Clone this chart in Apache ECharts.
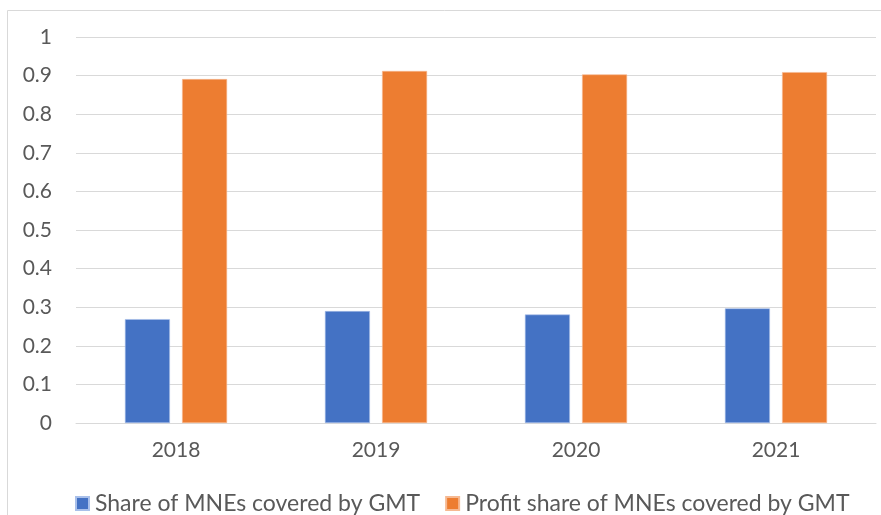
<!DOCTYPE html>
<html>
<head>
<meta charset="utf-8">
<script src="https://cdn.jsdelivr.net/npm/echarts@6/dist/echarts.min.js"></script>
<style>
  html, body { margin: 0; padding: 0; background: #fff; }
  #chart { width: 881px; height: 515px; }
</style>
</head>
<body>
<div id="chart"></div>
<script>
  // values
  const years = ['2018', '2019', '2020', '2021']
  const shareMNEs = [0.269, 0.29, 0.281, 0.297]
  const profitShare = [0.891, 0.912, 0.903, 0.909]
  const seriesNames = ['Share of MNEs covered by GMT', 'Profit share of MNEs covered by GMT']

  const labelColor = '#595959'
  const font = 'Lato'

  let chart = echarts.init(document.getElementById('chart'))
  chart.setOption({
    animation: false,
    textStyle: { fontFamily: font },
    graphic: [{
      type: 'rect',
      shape: { x: 7.5, y: 10.5, width: 900, height: 600 },
      style: { fill: 'none', stroke: '#d9d9d9', lineWidth: 1 },
      silent: true
    }],
    legend: {
      bottom: -5,
      left: 70,
      padding: [5, 5, 5, 5],
      itemWidth: 13,
      itemHeight: 13,
      itemGap: 25,
      icon: 'rect',
      textStyle: { fontSize: 23, color: labelColor, fontFamily: font, padding: [0, 0, 0, 1] },
      data: seriesNames
    },
    grid: {
      left: 76,
      right: 5,
      top: 37,
      bottom: 92
    },
    xAxis: {
      type: 'category',
      data: years,
      axisLine: { lineStyle: { color: '#d9d9d9', width: 1 } },
      axisTick: { show: false },
      axisLabel: { fontSize: 21, color: labelColor, margin: 17 }
    },
    yAxis: {
      type: 'value',
      min: 0,
      max: 1,
      interval: 0.1,
      axisLine: { show: false },
      axisTick: { show: false },
      splitLine: { lineStyle: { color: '#d9d9d9', width: 1 } },
      axisLabel: {
        fontSize: 21,
        color: labelColor,
        margin: 24,
        formatter: v => String(Math.round(v * 10) / 10)
      }
    },
    series: [{
      name: seriesNames[0],
      type: 'bar',
      data: shareMNEs,
      barWidth: 45,
      barGap: '27%',
      itemStyle: { color: '#4472c4', borderColor: '#a9c0ea', borderWidth: 0.6 }
    }, {
      name: seriesNames[1],
      type: 'bar',
      data: profitShare,
      barWidth: 45,
      barGap: '27%',
      itemStyle: { color: '#ed7d31', borderColor: '#f6b992', borderWidth: 0.6 }
    }]
  })
</script>
</body>
</html>
